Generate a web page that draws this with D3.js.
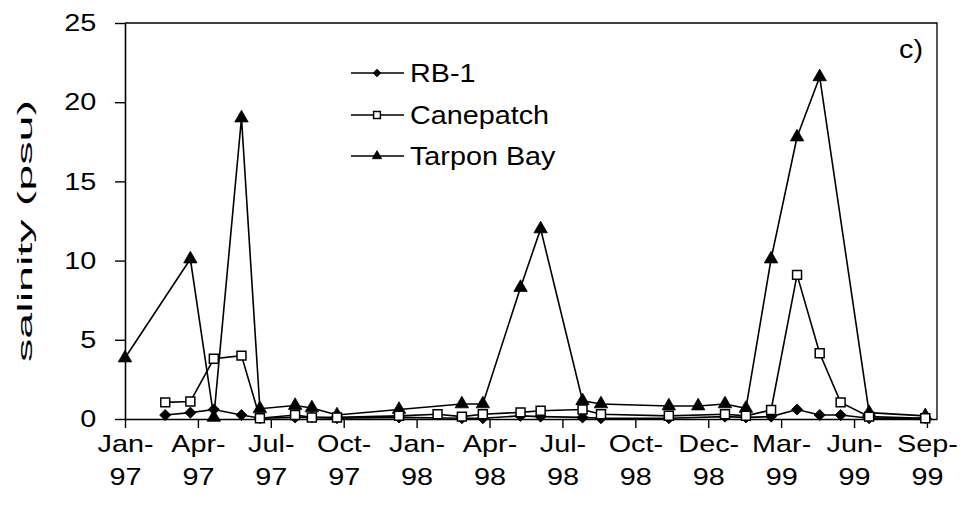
<!DOCTYPE html>
<meta charset="utf-8">
<style>
body { margin: 0; background: #fff; }
text { font-family: "Liberation Sans", Arial, sans-serif; fill: #000; }
.line { fill: none; stroke: #000; stroke-width: 1.6px; }
</style>
<svg width="964" height="515"></svg>
<script src="https://d3js.org/d3.v7.min.js"></script>
<script>

// sampling dates and salinity (psu) for each station
var sampleDates = ["1997-01-30","1997-03-19","1997-04-18","1997-05-16","1997-06-18","1997-07-10",
  "1997-08-21","1997-09-10","1997-10-10","1997-12-23","1998-02-07","1998-03-08","1998-04-02",
  "1998-05-17","1998-06-10","1998-07-30","1998-08-21","1998-11-10","1998-12-15","1999-01-16",
  "1999-02-10","1999-03-12","1999-04-12","1999-05-09","1999-06-03","1999-07-07","1999-09-12"];

var rb1 = [null,0.25,0.4,0.6,0.25,0.05,0.1,0.1,0.05,0.1,null,0.05,0.05,0.2,0.15,0.1,0.05,0.05,null,
  0.15,0.1,0.15,0.6,0.25,0.25,0.05,0.05];
var canepatch = [null,1.05,1.1,3.8,4.0,0.05,0.25,0.1,0.1,0.2,0.3,0.15,0.3,0.42,0.52,0.6,0.3,0.2,null,
  0.3,0.2,0.57,9.1,4.15,1.05,0.15,0.05];
var tarponBay = [3.85,null,10.1,0.1,19.0,0.65,0.85,0.7,0.25,0.6,null,0.95,0.95,8.3,12.0,1.15,0.95,0.82,0.82,
  0.95,0.67,10.1,17.8,21.6,null,0.4,0.2];

// axis ticks (excel date axis, 87 day step)
var tickDates = ["1997-01-30","1997-04-27","1997-07-23","1997-10-18","1998-01-13","1998-04-10",
  "1998-07-06","1998-10-01","1998-12-27","1999-03-24","1999-06-19","1999-09-14"];
var xDomain = ["1997-01-30","1999-09-26"];
var yTicks = [0, 5, 10, 15, 20, 25];

var seriesNames = ["RB-1", "Canepatch", "Tarpon Bay"];

var parse = d3.timeParse("%Y-%m-%d");

var svg = d3.select("svg"),
    margin = {top: 23, right: 27, bottom: 96, left: 125},
    width = +svg.attr("width") - margin.left - margin.right,
    height = +svg.attr("height") - margin.top - margin.bottom;

var g = svg.append("g").attr("transform", "translate(" + margin.left + "," + margin.top + ")");

var x = d3.scaleTime().domain(xDomain.map(parse)).range([0, width]);
var y = d3.scaleLinear().domain([0, 25]).range([height, 0]);

// the original figure is a bit wide, text is stretched sideways
var stretch = "scale(1.2,1)";

// frame (top and right)
g.append("path")
    .attr("d", "M0,0H" + width + "V" + height)
    .attr("fill", "none").attr("stroke", "#000").attr("stroke-width", 1.3);

// y axis
var yAxis = g.append("g")
    .call(d3.axisLeft(y).tickValues(yTicks).tickSize(10).tickPadding(14).tickSizeOuter(0));
yAxis.select(".domain").attr("stroke-width", 1.6);
yAxis.selectAll(".tick line").attr("stroke-width", 1.4);
yAxis.selectAll(".tick text")
    .attr("font-size", 24)
    .attr("font-family", null)
    .attr("transform", stretch);

// x axis
var fmtMon = d3.timeFormat("%b-"), fmtYr = d3.timeFormat("%y");
var xAxis = g.append("g")
    .attr("transform", "translate(0," + height + ")")
    .call(d3.axisBottom(x).tickValues(tickDates.map(parse)).tickSize(9).tickSizeOuter(0).tickFormat(""));
xAxis.select(".domain").attr("stroke-width", 1.6);
xAxis.selectAll(".tick line").attr("stroke-width", 1.4);
xAxis.selectAll(".tick text").each(function(d) {
  var t = d3.select(this).attr("font-size", 24).attr("font-family", null).attr("y", 0).attr("dy", null)
      .attr("transform", stretch);
  t.append("tspan").attr("x", 0).attr("y", 33).text(fmtMon(d));
  t.append("tspan").attr("x", 0).attr("y", 66).text(fmtYr(d));
});

// y axis title
svg.append("text")
    .attr("transform", "translate(32,231) rotate(-90)")
    .attr("text-anchor", "middle")
    .attr("font-size", 21)
    .attr("textLength", 262)
    .attr("lengthAdjust", "spacingAndGlyphs")
    .text("salinity (psu)");

// panel label
svg.append("text")
    .attr("transform", "translate(923,58) scale(1.15,1)")
    .attr("text-anchor", "end")
    .attr("font-size", 25)
    .text("c)");

var series = [rb1, canepatch, tarponBay].map(function(vals, i) {
  return {
    name: seriesNames[i],
    points: sampleDates.map(function(d, j) { return {date: parse(d), value: vals[j]}; })
      .filter(function(p) { return p.value !== null; })
  };
});

var line = d3.line()
    .x(function(d) { return x(d.date); })
    .y(function(d) { return y(d.value); });

g.selectAll(".line")
  .data(series)
  .enter().append("path")
    .attr("class", "line")
    .attr("d", function(d) { return line(d.points); });

// marker styles: diamond (filled), square (open), triangle (filled)
function markerPath(i, big) {
  if (i === 0) return d3.symbol().type(d3.symbolSquare).size(big ? 62 : 30)();
  if (i === 1) return d3.symbol().type(d3.symbolSquare).size(big ? 80 : 46)();
  return d3.symbol().type(d3.symbolTriangle).size(big ? 78 : 38)();
}
function styleMarker(sel, i) {
  sel.attr("fill", i === 1 ? "#fff" : "#000")
     .attr("stroke", "#000")
     .attr("stroke-width", i === 1 ? 1.5 : 0.8);
}

[0, 2, 1].forEach(function(i) {
  var s = series[i];
  g.append("g").selectAll("path")
    .data(s.points)
    .enter().append("path")
      .attr("d", markerPath(i, true))
      .attr("transform", function(d) {
        return "translate(" + x(d.date) + "," + y(d.value) + ")" + (i === 0 ? " rotate(45)" : "");
      })
      .call(styleMarker, i);
});

// legend
var legendY = [73, 115, 156];
var legend = svg.append("g").attr("transform", "translate(351,0)");
seriesNames.forEach(function(name, i) {
  var row = legend.append("g").attr("transform", "translate(0," + legendY[i] + ")");
  row.append("line").attr("x1", 0).attr("x2", 53).attr("stroke", "#000").attr("stroke-width", 1.5);
  row.append("path")
    .attr("d", markerPath(i, false))
    .attr("transform", "translate(26,0)" + (i === 0 ? " rotate(45)" : ""))
    .call(styleMarker, i);
  row.append("text")
    .attr("transform", "translate(59,0) scale(1.15,1)")
    .attr("dy", "0.35em")
    .attr("font-size", 25)
    .text(name);
});

</script>
